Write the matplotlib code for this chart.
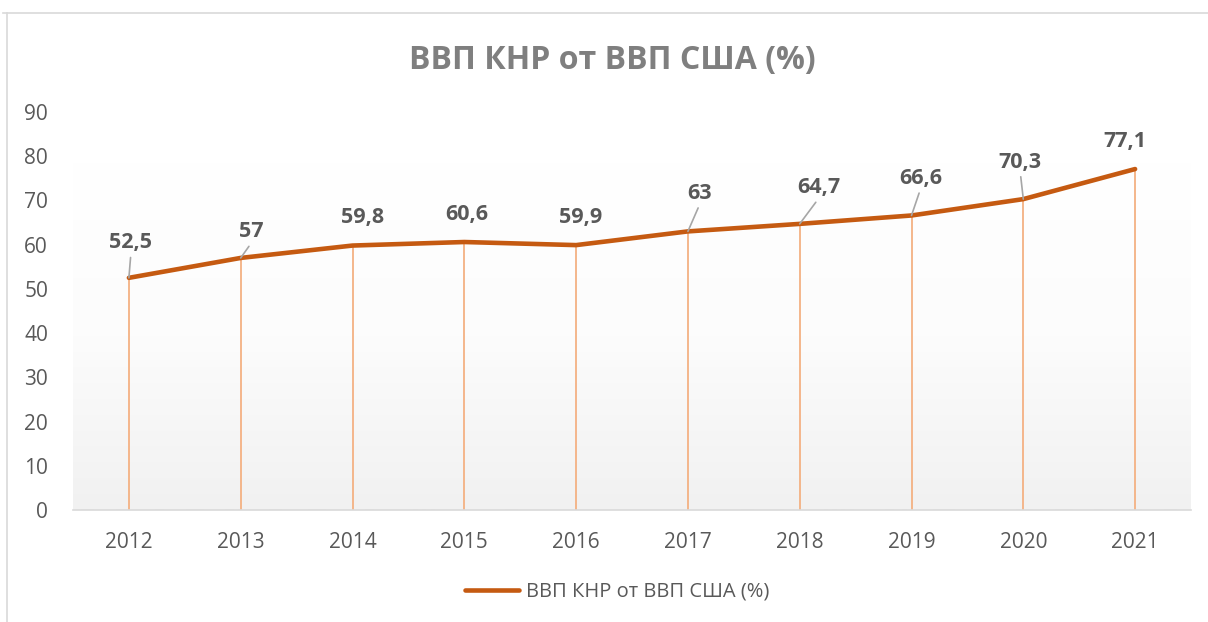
import numpy as np
import matplotlib.pyplot as plt
from matplotlib.colors import LinearSegmentedColormap
from matplotlib.lines import Line2D

# ── Data ──────────────────────────────────────────────────────────────────────

YEARS  = ["2012", "2013", "2014", "2015", "2016", "2017", "2018", "2019", "2020", "2021"]
VALUES = [52.5, 57, 59.8, 60.6, 59.9, 63, 64.7, 66.6, 70.3, 77.1]
LABELS = ["52,5", "57", "59,8", "60,6", "59,9", "63", "64,7", "66,6", "70,3", "77,1"]
TITLE  = "ВВП КНР от ВВП США (%)"

# label offsets in pixels (dx, dy) and whether a leader line is drawn
LABEL_OFFSETS = [(2, 35), (11, 26), (10, 28), (2, 28), (5, 28),
                 (12, 38), (19, 36), (9, 37), (-3, 37), (-10, 28)]
LEADERS = [True, True, False, False, False, True, True, True, True, False]

LINE_COL  = "#C55A11"
DROP_COL  = "#F4B183"
TEXT_COL  = "#595959"
TITLE_COL = "#7F7F7F"
GRID_COL  = "#D9D9D9"

plt.rcParams["font.family"] = ["Open Sans", "DejaVu Sans"]

# ── Plot ──────────────────────────────────────────────────────────────────────

fig = plt.figure(figsize=(12.08, 6.22), dpi=100)
ax = fig.add_axes([73 / 1208, 1 - 510 / 622, 1118 / 1208, 398 / 622])

x = np.arange(len(YEARS))
ax.set_xlim(-0.5, len(YEARS) - 0.5)
ax.set_ylim(0, 90)

# plot area gradient
cmap = LinearSegmentedColormap.from_list("bg", ["#FFFFFF", "#FCFCFC", "#F1F1F1"])
grad = np.linspace(0, 1, 256).reshape(-1, 1)
ax.imshow(grad, cmap=cmap, aspect="auto", extent=[-0.5, len(YEARS) - 0.5, 0, 78.5],
          origin="upper", zorder=0)

# drop lines
ax.vlines(x, 0, VALUES, color=DROP_COL, lw=1.3, zorder=2)

ax.plot(x, VALUES, color=LINE_COL, lw=3.3, solid_joinstyle="round",
        solid_capstyle="round", zorder=3)

for xi, v, lab, (dx, dy), lead in zip(x, VALUES, LABELS, LABEL_OFFSETS, LEADERS):
    arrow = None
    if lead:
        arrow = dict(arrowstyle="-", color="#A6A6A6", lw=1.2, shrinkA=1, shrinkB=0,
                     relpos=(0.5, 0.0))
    ax.annotate(lab, (xi, v), xytext=(dx, dy), textcoords="offset pixels",
                ha="center", va="center", fontsize=15.5, fontweight="bold",
                color=TEXT_COL, arrowprops=arrow, zorder=5)

ax.set_xticks(x)
ax.set_xticklabels(YEARS)
ax.set_yticks(np.arange(0, 91, 10))
ax.tick_params(axis="both", length=0, labelsize=15, labelcolor=TEXT_COL)
ax.tick_params(axis="y", pad=18)
ax.tick_params(axis="x", pad=16)

for side in ["top", "right", "left"]:
    ax.spines[side].set_visible(False)
ax.spines["bottom"].set_color(GRID_COL)
ax.spines["bottom"].set_linewidth(1.2)

fig.text(612 / 1208, 1 - 60 / 622, TITLE, ha="center", va="center",
         fontsize=23, fontweight="bold", color=TITLE_COL)

# legend
handle = Line2D([], [], color=LINE_COL, lw=3.3, solid_capstyle="round")
fig.legend([handle], [TITLE], loc="center", bbox_to_anchor=(617 / 1208, 1 - 592 / 622),
           frameon=False, fontsize=14.5, labelcolor=TEXT_COL, handlelength=2.7,
           handletextpad=0.3)

# chart border
fig.add_artist(Line2D([7 / 1208, 7 / 1208], [0, 1 - 13 / 622], color=GRID_COL, lw=1.2))
fig.add_artist(Line2D([3 / 1208, 1], [1 - 13 / 622, 1 - 13 / 622], color=GRID_COL, lw=1.2))

fig.savefig("out.png", dpi=100)
